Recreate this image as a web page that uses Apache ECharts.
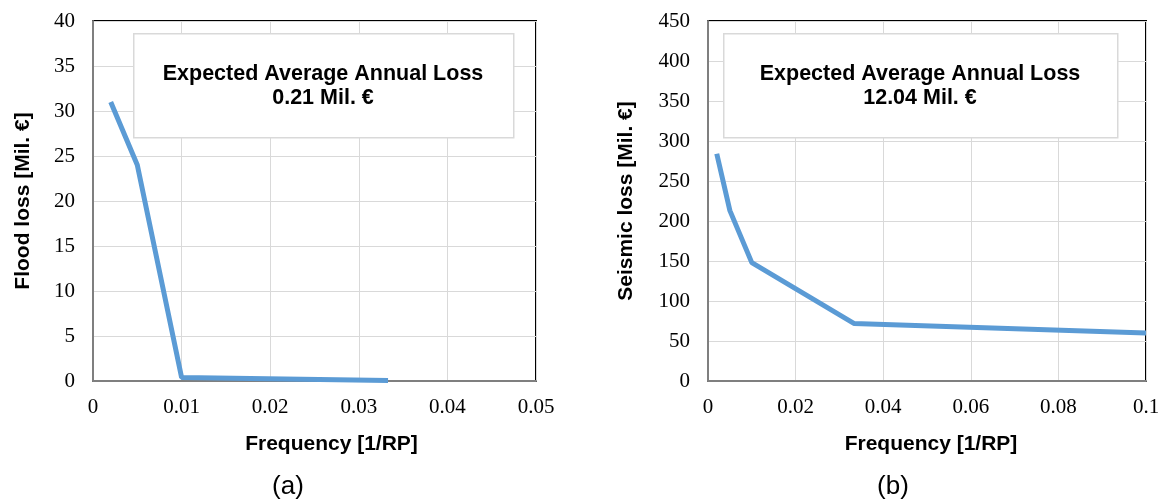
<!DOCTYPE html>
<html>
<head>
<meta charset="utf-8">
<script src="https://cdn.jsdelivr.net/npm/echarts@6/dist/echarts.min.js"></script>
<style>
html,body{margin:0;padding:0;background:#fff;}
#chart{width:1163px;height:500px;}
</style>
</head>
<body>
<div id="chart"></div>
<script>
// ---- data ----
const floodFreq = [0.002, 0.005, 0.01, 0.0333];
const floodLoss = [31, 24, 0.4, 0.05];
const seismicFreq = [0.002, 0.005, 0.01, 0.0333, 0.1];
const seismicLoss = [284, 213, 148, 72, 60];
const floodAAL = "0.21 Mil. €";
const seismicAAL = "12.04 Mil. €";
const boxTitle = "Expected Average Annual Loss";
const xTitle = "Frequency [1/RP]";
const yTitleFlood = "Flood loss [Mil. €]";
const yTitleSeismic = "Seismic loss [Mil. €]";
const panelLabels = ["(a)", "(b)"];

const pairs = (xs, ys) => xs.map((x, i) => [x, ys[i]]);

const serif = '"Liberation Serif", "Times New Roman", serif';
const sans = '"Liberation Sans", Arial, sans-serif';
const gridColor = '#d9d9d9';
const axisGray = '#7f7f7f';
const lineColor = '#5b9bd5';

function xAxisCfg(idx, max, interval, shift) {
  return {
    type: 'value', gridIndex: idx, min: 0, max: max, interval: interval,
    name: xTitle, nameLocation: 'middle', nameGap: 53,
    nameTextStyle: {fontFamily: sans, fontWeight: 'bold', fontSize: 21, color: '#000', padding: [0, 0, 0, shift]},
    axisLine: {show: true, lineStyle: {color: axisGray, width: 2}},
    axisTick: {show: false},
    axisLabel: {fontFamily: serif, fontSize: 21, color: '#000', margin: 16,
      formatter: v => String(Math.round(v * 1000) / 1000)},
    splitLine: {show: true, lineStyle: {color: gridColor, width: 1}},
    z: 3
  };
}
function yAxisCfg(idx, max, interval, name, gap) {
  return {
    type: 'value', gridIndex: idx, min: 0, max: max, interval: interval,
    name: name, nameLocation: 'middle', nameGap: gap,
    nameTextStyle: {fontFamily: sans, fontWeight: 'bold', fontSize: 21, color: '#000'},
    axisLine: {show: true, lineStyle: {color: axisGray, width: 2}},
    axisTick: {show: false},
    axisLabel: {fontFamily: serif, fontSize: 21, color: '#000', margin: 18},
    splitLine: {show: true, lineStyle: {color: gridColor, width: 1}},
    z: 3
  };
}

const chart = echarts.init(document.getElementById('chart'), null, {renderer: 'canvas'});
const option = {
  animation: false,
  backgroundColor: '#fff',
  grid: [
    {left: 93, top: 21, width: 443, height: 360, show: true, borderColor: '#000', borderWidth: 2, backgroundColor: 'transparent'},
    {left: 708, top: 21, width: 438, height: 360, show: true, borderColor: '#000', borderWidth: 2, backgroundColor: 'transparent'}
  ],
  xAxis: [xAxisCfg(0, 0.05, 0.01, 34), xAxisCfg(1, 0.1, 0.02, 8)],
  yAxis: [yAxisCfg(0, 40, 5, yTitleFlood, 59), yAxisCfg(1, 450, 50, yTitleSeismic, 71)],
  series: [
    {type: 'line', xAxisIndex: 0, yAxisIndex: 0, data: pairs(floodFreq, floodLoss),
      showSymbol: false, lineStyle: {color: lineColor, width: 5}, z: 10},
    {type: 'line', xAxisIndex: 1, yAxisIndex: 1, data: pairs(seismicFreq, seismicLoss),
      showSymbol: false, lineStyle: {color: lineColor, width: 5}, z: 10}
  ],
  graphic: [
    {type: 'rect', left: 133, top: 33, z: 5, shape: {width: 380, height: 104},
      style: {fill: '#fff', stroke: gridColor, lineWidth: 1.5}},
    {type: 'text', x: 323, y: 74, z: 6,
      style: {text: boxTitle, font: 'bold 21.5px ' + sans, fill: '#000', align: 'center', verticalAlign: 'middle'}},
    {type: 'text', x: 323, y: 98, z: 6,
      style: {text: floodAAL, font: 'bold 21.5px ' + sans, fill: '#000', align: 'center', verticalAlign: 'middle'}},
    {type: 'rect', left: 723, top: 33, z: 5, shape: {width: 394, height: 104},
      style: {fill: '#fff', stroke: gridColor, lineWidth: 1.5}},
    {type: 'text', x: 920, y: 74, z: 6,
      style: {text: boxTitle, font: 'bold 21.5px ' + sans, fill: '#000', align: 'center', verticalAlign: 'middle'}},
    {type: 'text', x: 920, y: 98, z: 6,
      style: {text: seismicAAL, font: 'bold 21.5px ' + sans, fill: '#000', align: 'center', verticalAlign: 'middle'}},
    {type: 'text', x: 288, y: 487, z: 6,
      style: {text: panelLabels[0], font: '26px ' + sans, fill: '#000', align: 'center', verticalAlign: 'middle'}},
    {type: 'text', x: 893, y: 487, z: 6,
      style: {text: panelLabels[1], font: '26px ' + sans, fill: '#000', align: 'center', verticalAlign: 'middle'}}
  ]
};
chart.setOption(option);
</script>
</body>
</html>
